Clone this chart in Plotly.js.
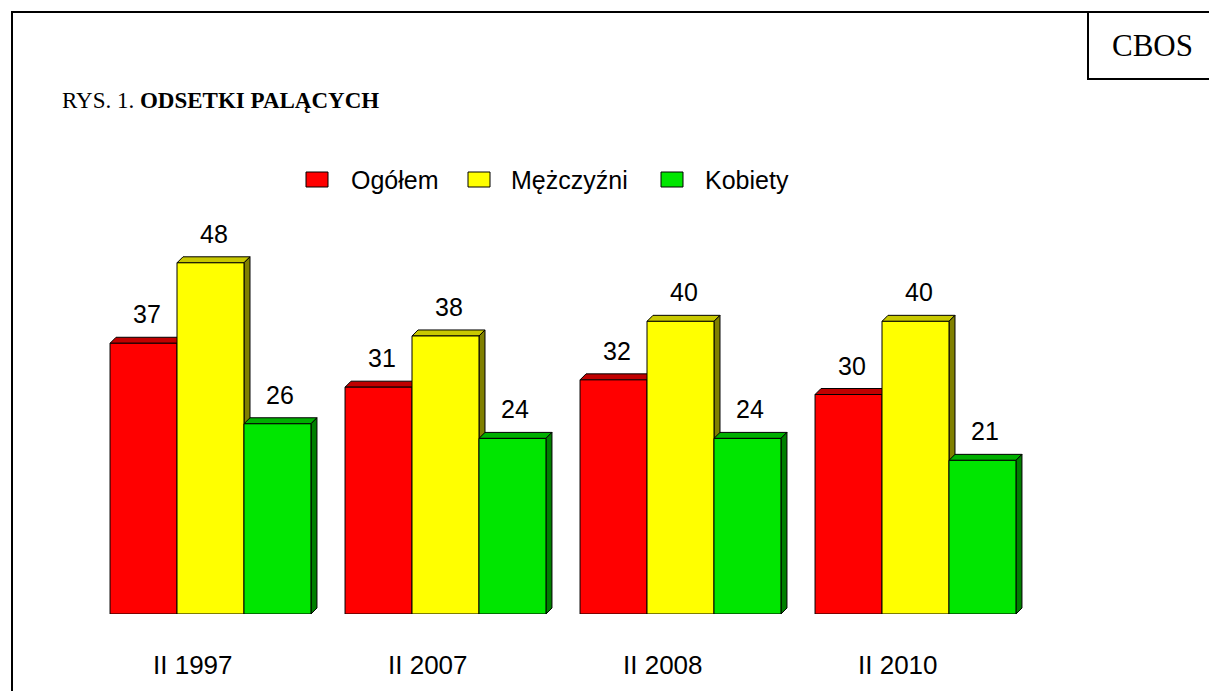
<!DOCTYPE html>
<html>
<head>
<meta charset="utf-8">
<script src="https://cdn.plot.ly/plotly-3.0.1.min.js"></script>
<style>html,body{margin:0;padding:0;background:#fff;}#chart{width:1209px;height:691px;}</style>
</head>
<body>
<div id="chart"></div>
<script>
const categories = ['II 1997', 'II 2007', 'II 2008', 'II 2010'];
const ogolem = [37, 31, 32, 30];
const mezczyzni = [48, 38, 40, 40];
const kobiety = [26, 24, 24, 21];
const seriesNames = ['Ogółem', 'Mężczyźni', 'Kobiety'];
const seriesValues = [ogolem, mezczyzni, kobiety];
const frontColors = ['#FF0000', '#FFFF00', '#00E600'];
const topColors = ['#C00000', '#C8C800', '#00B000'];
const sideColors = ['#800000', '#808000', '#008000'];

const W = 1209, H = 691;
const L = 93, R = 176, T = 175, B = 77;
const PW = W - L - R, PH = H - T - B;
const xr = [-0.5, categories.length - 0.5];
const yr = [0, 60];
const bargap = 0.145;
const bw = (1 - bargap) / seriesValues.length;
const depthPx = 6;
const dx = depthPx * (xr[1] - xr[0]) / PW;
const dy = depthPx * (yr[1] - yr[0]) / PH;
const SANS = 'Liberation Sans, Arial, sans-serif';
const SERIF = 'Liberation Serif, Times New Roman, serif';

function pxX(px) { return (px - L) / PW; }
function pxY(py) { return (T + PH - py) / PH; }

const xs = categories.map((c, i) => i);
const traces = seriesValues.map((vals, s) => ({
  type: 'bar', x: xs, y: vals, name: seriesNames[s],
  marker: {color: frontColors[s], line: {color: '#000', width: 1}},
  hoverinfo: 'y', showlegend: false
}));

const shapes = [];
const annotations = [];
seriesValues.forEach((vals, s) => {
  const off = (s - (seriesValues.length - 1) / 2) * bw;
  vals.forEach((h, i) => {
    const x0 = i + off - bw / 2, x1 = i + off + bw / 2;
    // top face
    shapes.push({type: 'path', xref: 'x', yref: 'y', layer: 'below',
      path: `M${x0},${h} L${x0 + dx},${h + dy} L${x1 + dx},${h + dy} L${x1},${h} Z`,
      fillcolor: topColors[s], line: {color: '#000', width: 1}});
    // side face
    shapes.push({type: 'path', xref: 'x', yref: 'y', layer: 'below',
      path: `M${x1},0 L${x1 + dx},${dy} L${x1 + dx},${h + dy} L${x1},${h} Z`,
      fillcolor: sideColors[s], line: {color: '#000', width: 1}});
    annotations.push({xref: 'x', yref: 'y', x: i + off + dx / 2, y: h, text: String(h),
      showarrow: false, yanchor: 'bottom', yshift: 13,
      font: {family: SANS, size: 25, color: '#000'}});
  });
});

categories.forEach((c, i) => {
  annotations.push({xref: 'x', yref: 'y', x: i, y: 0, text: c, showarrow: false,
    yanchor: 'middle', yshift: -51, xshift: -18,
    font: {family: SANS, size: 26, color: '#000'}});
});

// legend (manual)
const legendSq = [306, 468, 661];
const legendTxt = [349, 509, 703];
seriesNames.forEach((n, s) => {
  shapes.push({type: 'rect', xref: 'paper', yref: 'paper',
    x0: pxX(legendSq[s]), x1: pxX(legendSq[s] + 22), y0: pxY(187), y1: pxY(172),
    fillcolor: frontColors[s], line: {color: '#000', width: 1}});
  annotations.push({xref: 'paper', yref: 'paper', x: pxX(legendTxt[s]), y: pxY(180), text: n,
    showarrow: false, xanchor: 'left', yanchor: 'middle',
    font: {family: SANS, size: 25, color: '#000'}});
});

// frame
const frameLine = {color: '#000', width: 2};
shapes.push({type: 'line', xref: 'paper', yref: 'paper', x0: pxX(12), x1: pxX(12), y0: pxY(12), y1: pxY(700), line: frameLine});
shapes.push({type: 'line', xref: 'paper', yref: 'paper', x0: pxX(11), x1: pxX(1215), y0: pxY(12), y1: pxY(12), line: frameLine});
shapes.push({type: 'line', xref: 'paper', yref: 'paper', x0: pxX(1088), x1: pxX(1088), y0: pxY(12), y1: pxY(79), line: frameLine});
shapes.push({type: 'line', xref: 'paper', yref: 'paper', x0: pxX(1087), x1: pxX(1215), y0: pxY(79), y1: pxY(79), line: frameLine});

annotations.push({xref: 'paper', yref: 'paper', x: pxX(1152), y: pxY(45), text: 'CBOS',
  showarrow: false, xanchor: 'center', yanchor: 'middle',
  font: {family: SERIF, size: 31, color: '#000'}});
annotations.push({xref: 'paper', yref: 'paper', x: pxX(60), y: pxY(100),
  text: 'RYS. 1. <b>ODSETKI PALĄCYCH</b>',
  showarrow: false, xanchor: 'left', yanchor: 'middle',
  font: {family: SERIF, size: 23, color: '#000'}});

const layout = {
  width: W, height: H,
  margin: {l: L, r: R, t: T, b: B, pad: 0},
  paper_bgcolor: '#fff', plot_bgcolor: 'rgba(0,0,0,0)',
  barmode: 'group', bargap: bargap, bargroupgap: 0,
  showlegend: false,
  xaxis: {range: xr, showgrid: false, zeroline: false, showticklabels: false, ticks: '', showline: false, fixedrange: true},
  yaxis: {range: yr, showgrid: false, zeroline: false, showticklabels: false, ticks: '', showline: false, fixedrange: true},
  shapes: shapes, annotations: annotations
};

Plotly.newPlot('chart', traces, layout, {displayModeBar: false, staticPlot: true});
</script>
</body>
</html>
